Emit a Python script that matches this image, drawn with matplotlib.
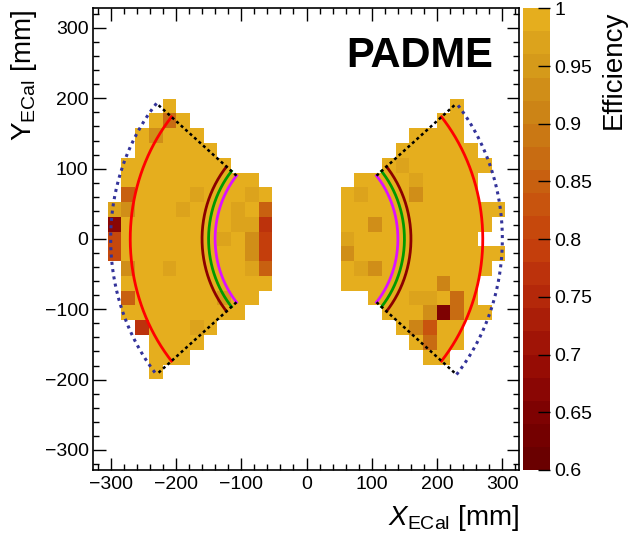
import numpy as np
import matplotlib
matplotlib.use('Agg')
import matplotlib.pyplot as plt
from matplotlib.colors import ListedColormap, BoundaryNorm
from matplotlib.ticker import MultipleLocator

plt.rcParams['font.family'] = ['Liberation Sans', 'DejaVu Sans']
plt.rcParams['mathtext.fontset'] = 'custom'
plt.rcParams['mathtext.rm'] = 'Liberation Sans'
plt.rcParams['mathtext.it'] = 'Liberation Sans:italic'

# ---------------- data ----------------
bin_size = 21.0
n_bins = 31
default_eff = 0.99

row_y = [189, 168, 147, 126, 105, 84, 63, 42, 21, 0, -21, -42, -63, -84, -105, -126, -147, -168, -189]
left_xmin = [-210, -231, -252, -252, -273, -273, -273, -294, -294, -294, -294, -273, -273, -273, -273, -252, -231, -231, -231]
left_xmax = [-210, -189, -168, -147, -126, -84, -63, -63, -63, -63, -63, -63, -63, -84, -105, -147, -168, -189, -231]
right_xmin = [231, 210, 168, 147, 126, 84, 63, 63, 63, 63, 63, 63, 63, 105, 126, 147, 168, 189, np.nan]
right_xmax = [231, 231, 231, 252, 273, 252, 252, 294, 273, 252, 294, 273, 252, 252, 273, 231, 231, 210, np.nan]

low_x = [-210, -231, -273, -168, -84, -294, -273, -189, -105, -63, -294, -105, -84, -63,
         -294, -126, -84, -63, -294, -84, -63, -273, -210, -84, -63, -273, -126, -252, -168,
         147, 168, 168, 84, 105, 63, 63, 84, 105, 210, 168, 189, 231, 189, 210, 231, 168, 189, 189]
low_y = [168, 147, 63, 63, 63, 42, 42, 42, 42, 42, 21, 21, 21, 21,
         0, 0, 0, 0, -21, -21, -21, -42, -42, -42, -42, -84, -84, -126, -126,
         105, 84, 63, 63, 21, 0, -21, -42, -42, -63, -84, -84, -84, -105, -105, -105, -126, -126, -147]
low_eff = [0.86, 0.92, 0.84, 0.96, 0.96, 0.97, 0.92, 0.96, 0.96, 0.85, 0.66, 0.96, 0.96, 0.77,
           0.80, 0.96, 0.93, 0.78, 0.80, 0.93, 0.78, 0.93, 0.96, 0.96, 0.84, 0.84, 0.95, 0.76, 0.96,
           0.96, 0.96, 0.93, 0.96, 0.93, 0.96, 0.93, 0.96, 0.93, 0.91, 0.96, 0.96, 0.87, 0.93, 0.65, 0.87, 0.90, 0.82, 0.87]

# overlay geometry (mm, degrees)
arc_half_angle = 40
r_blue = 300
r_red = 270
r_maroon = 160
r_green = 150
r_magenta = 140

# ---------------- build histogram ----------------
edges = -bin_size * n_bins / 2 + bin_size * np.arange(n_bins + 1)
centers = 0.5 * (edges[:-1] + edges[1:])
Z = np.full((n_bins, n_bins), np.nan)

def idx(v):
    return int(np.argmin(np.abs(centers - v)))

for y, a, b, c, d in zip(row_y, left_xmin, left_xmax, right_xmin, right_xmax):
    iy = idx(y)
    for lo, hi in ((a, b), (c, d)):
        if np.isnan(lo):
            continue
        for ix in range(idx(lo), idx(hi) + 1):
            Z[iy, ix] = default_eff
for x, y, e in zip(low_x, low_y, low_eff):
    Z[idx(y), idx(x)] = e

band_colors = ['#6a0000', '#740000', '#7e0202', '#8a0604', '#960c04', '#a01406', '#aa1e08',
               '#b4280a', '#bc320c', '#c43e0c', '#c6480c', '#c8540e', '#c86010', '#c86c12',
               '#ca7814', '#cc8416', '#d08e18', '#d59a1a', '#dca31c', '#e5ae1e']
cmap = ListedColormap(band_colors)
levels = np.linspace(0.6, 1.0, 21)
norm = BoundaryNorm(levels, cmap.N)

# ---------------- figure ----------------
W, H = 630, 541
fig = plt.figure(figsize=(W / 100, H / 100), dpi=100)
ax = fig.add_axes([92.7 / W, (H - 470) / H, (519 - 92.7) / W, (470 - 8.3) / H])
cax = fig.add_axes([522.7 / W, (H - 470) / H, (550 - 522.7) / W, (470 - 8.3) / H])

mesh = ax.pcolormesh(edges, edges, np.ma.masked_invalid(Z), cmap=cmap, norm=norm,
                     edgecolors='none', antialiased=False)

def arc(r, t0, t1):
    t = np.radians(np.linspace(t0, t1, 200))
    return r * np.cos(t), r * np.sin(t)

a = arc_half_angle
for (t0, t1) in ((180 - a, 180 + a), (-a, a)):
    x, y = arc(r_blue, t0, t1)
    ax.plot(x, y, color='#33339a', lw=2.2, ls=(0, (1, 1.4)))
    x, y = arc(r_red, t0, t1)
    ax.plot(x, y, color='#ff0000', lw=2.0)
    x, y = arc(r_maroon, t0, t1)
    ax.plot(x, y, color='#8b0000', lw=2.0)
    x, y = arc(r_green, t0, t1)
    ax.plot(x, y, color='#009a00', lw=2.0)
    x, y = arc(r_magenta, t0, t1)
    ax.plot(x, y, color='#dd10ff', lw=2.0)
    for t in (t0, t1):
        tr = np.radians(t)
        ax.plot([r_magenta * np.cos(tr), r_blue * np.cos(tr)],
                [r_magenta * np.sin(tr), r_blue * np.sin(tr)],
                color='black', lw=1.8, ls=(0, (1.2, 1.2)))

ax.set_xlim(-327.5, 325.5)
ax.set_ylim(-328.5, 328)
ax.xaxis.set_major_locator(MultipleLocator(100))
ax.xaxis.set_minor_locator(MultipleLocator(20))
ax.yaxis.set_major_locator(MultipleLocator(100))
ax.yaxis.set_minor_locator(MultipleLocator(20))
ax.tick_params(which='both', direction='in', top=True, right=True, width=1, labelsize=14)
ax.tick_params(which='major', length=9)
ax.tick_params(which='minor', length=4.5)
ax.tick_params(axis='x', pad=4)
ax.tick_params(axis='y', pad=3)
for s in ax.spines.values():
    s.set_linewidth(1.2)

ax.set_xlabel(r'$X_{\mathrm{ECal}}$ [mm]', fontsize=20, ha='right')
ax.xaxis.set_label_coords(1.0, -0.105)
ax.xaxis.label.set_va('center')
ax.set_ylabel(r'$\mathrm{Y}_{\mathrm{ECal}}$ [mm]', fontsize=20, ha='center', va='top')
ax.yaxis.set_label_coords(-0.16, 0.996)
ax.yaxis.label.set_va('center')
ax.yaxis.label.set_ha('right')
ax.yaxis.label.set_rotation_mode('anchor')

ax.text(61, 245, 'PADME', ha='left', va='baseline', fontsize=30, fontweight='bold')

cb = fig.colorbar(mesh, cax=cax, ticks=np.arange(0.6, 1.001, 0.05))
cb.outline.set_visible(False)
cb.ax.set_yticklabels(['0.6', '0.65', '0.7', '0.75', '0.8', '0.85', '0.9', '0.95', '1'])
cb.ax.tick_params(direction='in', length=9, width=1, labelsize=14, pad=3)
cb.ax.minorticks_off()
cb.set_label('Efficiency', fontsize=20, rotation=90)
cb.ax.yaxis.set_label_coords(3.35, 0.995)
cb.ax.yaxis.label.set_ha('right')
cb.ax.yaxis.label.set_va('center')
cb.ax.yaxis.label.set_rotation_mode('anchor')

fig.savefig('out.png', dpi=100)
